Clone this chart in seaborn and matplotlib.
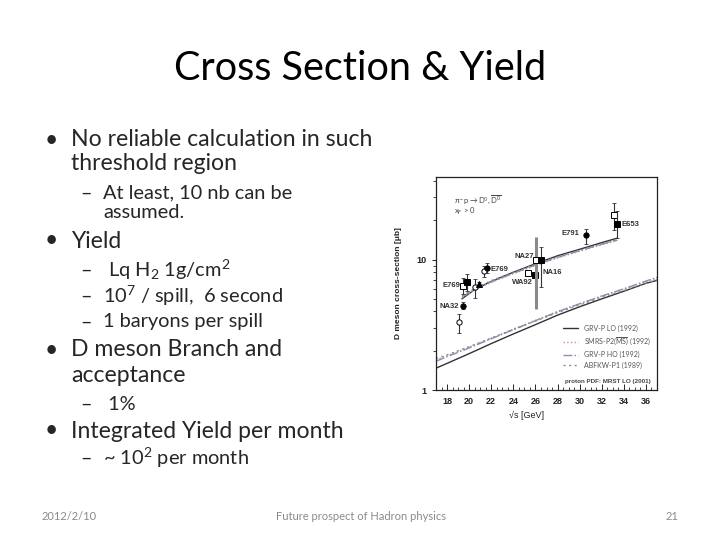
#!/usr/bin/env python3

import matplotlib.pyplot as plt
import seaborn as sns
import numpy as np
from matplotlib.lines import Line2D
from matplotlib.ticker import LogLocator, MultipleLocator, NullFormatter

# ---- data ----
# measured D meson cross-sections (sqrt(s) in GeV, sigma in microbarn)
pt_x = [19.05, 19.4, 19.45, 19.85, 20.5, 20.85, 21.3, 21.6, 25.3, 25.95, 26.07, 26.46, 30.53, 33.1, 33.4]
pt_y = [3.3, 4.4, 6.3, 6.7, 6.2, 6.5, 8.2, 8.6, 7.9, 7.6, 10.0, 10.0, 15.4, 21.8, 18.8]
pt_lo = [2.75, 4.15, 5.4, 5.7, 5.1, 6.3, 7.3, 7.9, 7.6, 7.3, 4.2, 6.2, 13.2, 17.0, 14.7]
pt_hi = [3.85, 4.7, 7.2, 7.8, 7.1, 6.7, 9.0, 9.4, 8.2, 7.9, 14.8, 12.5, 17.2, 27.3, 23.5]
pt_marker = ['o', 'o', 's', 's', 'o', '^', 'o', 'o', 's', 's', 's', 's', 'o', 's', 's']
pt_filled = [False, True, False, True, False, True, False, True, False, True, False, True, True, False, True]

# experiment labels
exp_names = ['NA32', 'E769', 'E769', 'NA27', 'NA16', 'WA92', 'E791', 'E653']
exp_x = [19.05, 19.2, 21.9, 25.9, 26.6, 25.8, 30.0, 33.75]
exp_y = [4.4, 6.3, 8.4, 10.6, 7.9, 6.7, 15.8, 18.6]
exp_ha = ['right', 'right', 'left', 'right', 'left', 'right', 'right', 'left']

# theory curves, upper band
up_x = [19.35, 20.5, 22, 24, 26, 28, 30, 32, 33.4]
up_grv_lo = [5.0, 5.9, 6.8, 8.0, 9.3, 10.7, 12.0, 13.5, 14.6]
up_smrs = [5.1, 5.85, 6.7, 7.8, 9.0, 10.3, 11.6, 13.0, 14.0]
up_grv_ho = [5.2, 5.9, 6.75, 7.85, 9.1, 10.4, 11.7, 13.1, 14.1]
up_abfkw = [5.3, 6.0, 6.9, 8.0, 9.2, 10.5, 11.8, 13.2, 14.2]

# theory curves, lower band
lo_x = [17, 18, 20, 22, 24, 26, 28, 30, 32, 34, 36, 37]
lo_grv_lo = [1.47, 1.60, 1.90, 2.27, 2.69, 3.17, 3.75, 4.35, 5.0, 5.72, 6.58, 6.93]
lo_smrs = [1.70, 1.83, 2.13, 2.50, 2.93, 3.42, 4.0, 4.6, 5.25, 5.95, 6.8, 7.2]
lo_grv_ho = [1.66, 1.80, 2.10, 2.47, 2.90, 3.40, 3.98, 4.58, 5.25, 5.97, 6.85, 7.3]
lo_abfkw = [1.74, 1.86, 2.15, 2.50, 2.91, 3.38, 3.92, 4.50, 5.12, 5.80, 6.60, 7.0]

curve_names = ['GRV-P LO (1992)', r'SMRS-P2($\overline{\rm MS}$) (1992)', 'GRV-P HO (1992)', 'ABFKW-P1 (1989)']
curve_colors = ['#333333', '#d28a9a', '#8a8fb5', '#8c8c8c']
curve_styles = ['-', ':', '-.', (0, (1.5, 2.5))]

# slide text
title = 'Cross Section & Yield'
bullets = [
    ('No reliable calculation in such', 1, 140),
    ('threshold region', 0, 163),
    ('At least, 10 nb can be', 2, 193),
    ('assumed.', 0.5, 213),
    ('Yield', 1, 241),
    (' Lq H$_2$ 1g/cm$^2$', 2, 270),
    ('10$^7$ / spill,  6 second', 2, 296),
    ('1 baryons per spill', 2, 322),
    ('D meson Branch and', 1, 350),
    ('acceptance', 0, 375),
    (' 1%', 2, 404),
    ('Integrated Yield per month', 1, 431),
    ('~ 10$^2$ per month', 2, 458),
]
footer = ['2012/2/10', 'Future prospect of Hadron physics', '21']

# ---- figure ----
sns.set_style('ticks')
plt.rcParams['font.family'] = ['Lato', 'DejaVu Sans']
plt.rcParams['mathtext.fontset'] = 'custom'
plt.rcParams['mathtext.rm'] = 'Lato'
plt.rcParams['mathtext.it'] = 'Lato:italic'
plt.rcParams['mathtext.bf'] = 'Lato:bold'
plt.rcParams['mathtext.default'] = 'regular'

fig = plt.figure(figsize=(7.2, 5.4), dpi=100)
W, H = 720.0, 540.0
main_fs, sub_fs = 16.6, 14.4

fig.text(360 / W, 1 - 68 / H, title, ha='center', va='center', fontsize=28.5, color='black')

for txt, level, py in bullets:
    yy = 1 - py / H
    if level == 1:
        fig.text(45 / W, yy, '•', ha='left', va='center', fontsize=main_fs)
        fig.text(71 / W, yy, txt, ha='left', va='center', fontsize=main_fs)
    elif level == 0:
        fig.text(71 / W, yy, txt, ha='left', va='center', fontsize=main_fs)
    elif level == 2:
        fig.text(80 / W, yy, '–', ha='left', va='center', fontsize=sub_fs)
        fig.text(103 / W, yy, txt, ha='left', va='center', fontsize=sub_fs)
    else:
        fig.text(103 / W, yy, txt, ha='left', va='center', fontsize=sub_fs)

fig.text(42 / W, 1 - 516 / H, footer[0], ha='left', va='center', fontsize=8, color='#8a8a8a')
fig.text(361 / W, 1 - 516 / H, footer[1], ha='center', va='center', fontsize=8, color='#8a8a8a')
fig.text(678 / W, 1 - 516 / H, footer[2], ha='right', va='center', fontsize=8, color='#8a8a8a')

# ---- embedded plot ----
ax = fig.add_axes([436 / W, 1 - 390 / H, 221 / W, 213 / H])

for k, ys in enumerate([lo_grv_lo, lo_smrs, lo_grv_ho, lo_abfkw]):
    sns.lineplot(x=lo_x, y=ys, ax=ax, color=curve_colors[k], linestyle=curve_styles[k],
                 linewidth=1.0, sort=False, legend=False)
for k, ys in enumerate([up_grv_lo, up_smrs, up_grv_ho, up_abfkw]):
    sns.lineplot(x=up_x, y=ys, ax=ax, color=curve_colors[k], linestyle=curve_styles[k],
                 linewidth=1.0, sort=False, legend=False)

for i in range(len(pt_x)):
    err = [[pt_y[i] - pt_lo[i]], [pt_hi[i] - pt_y[i]]]
    thick = (i == 10)
    ax.errorbar([pt_x[i]], [pt_y[i]], yerr=err, fmt='none',
                ecolor='#8a8a8a' if thick else '#333333',
                elinewidth=2.2 if thick else 0.8, capsize=0 if thick else 1.5, capthick=0.6)
    ax.plot(pt_x[i], pt_y[i], marker=pt_marker[i], markersize=4.2 if pt_marker[i] != 'o' else 3.8,
            markerfacecolor='black' if pt_filled[i] else 'white',
            markeredgecolor='black', markeredgewidth=0.7, linestyle='none')

for name, x, y, ha in zip(exp_names, exp_x, exp_y, exp_ha):
    ax.text(x, y, name, ha=ha, va='center', fontsize=5.5, fontweight='bold',
            family='Liberation Sans', color='#333333')

ax.text(0.08, 0.89, r'$\pi^-p \rightarrow D^0,\overline{D^0}$', transform=ax.transAxes,
        fontsize=5.5, color='#444444', va='center')
ax.text(0.08, 0.84, r'$x_F$ > 0', transform=ax.transAxes, fontsize=5.5, color='#444444', va='center')

ax.set_yscale('log')
ax.set_xlim(17, 37)
ax.set_ylim(1, 43)
ax.set_xticks(np.arange(18, 37, 2))
ax.xaxis.set_minor_locator(MultipleLocator(0.5))
ax.yaxis.set_major_locator(LogLocator(base=10, subs=(1.0,)))
ax.yaxis.set_minor_locator(LogLocator(base=10, subs=(2, 3, 4, 5, 6, 7, 8, 9)))
ax.yaxis.set_minor_formatter(NullFormatter())
ax.set_yticks([1, 10])
ax.set_yticklabels(['1', '10'])
ax.tick_params(axis='x', which='major', direction='in', length=4, width=0.7, labelsize=6.5, pad=5)
ax.tick_params(axis='x', which='minor', direction='in', length=2, width=0.6)
ax.tick_params(axis='y', which='major', direction='out', length=3, width=0.7, labelsize=6.5)
ax.tick_params(axis='y', which='minor', direction='out', length=2, width=0.6)
for lab in ax.get_xticklabels() + ax.get_yticklabels():
    lab.set_fontweight('bold')
    lab.set_family('Liberation Sans')
    lab.set_color('#222222')
for sp in ax.spines.values():
    sp.set_linewidth(0.9)
    sp.set_color('#222222')

ax.set_ylabel('D meson cross-section [\u03bcb]', fontsize=6, fontweight='bold',
              family='Liberation Sans', color='#222222', labelpad=11)
ax.set_xlabel('\u221as [GeV]', fontsize=6.5, family='Liberation Sans', color='#222222')
ax.xaxis.set_label_coords(0.41, -0.1)

handles = [Line2D([0], [0], color=curve_colors[k], linestyle=curve_styles[k], linewidth=1.0,
                  label=curve_names[k]) for k in range(4)]
leg = ax.legend(handles=handles, loc='lower right', bbox_to_anchor=(0.99, 0.08), frameon=False,
                fontsize=5, handlelength=2.2, labelspacing=0.5, borderaxespad=0.2)
for t in leg.get_texts():
    t.set_color('#555555')
ax.text(0.97, 0.035, 'proton PDF: MRST LO (2001)', transform=ax.transAxes, ha='right',
        fontsize=4.5, fontweight='bold', color='#444444', family='Liberation Sans')

plt.savefig('out.png', dpi=100)
